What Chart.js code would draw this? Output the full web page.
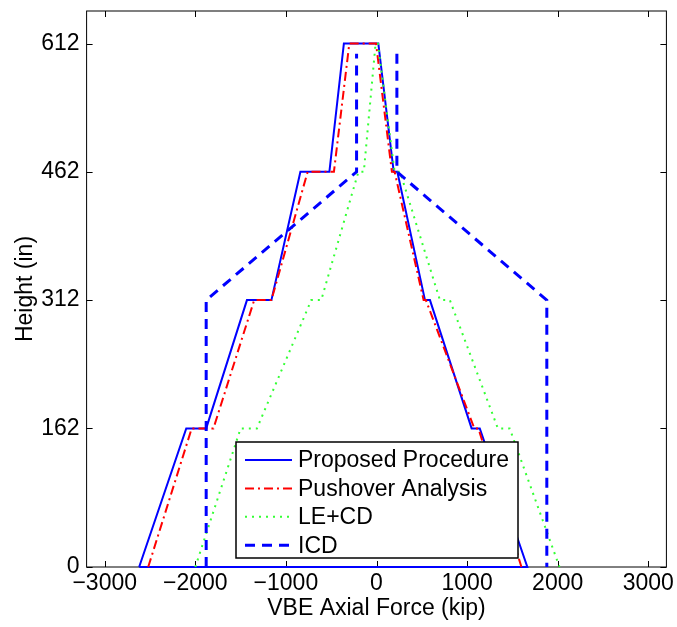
<!DOCTYPE html>
<html>
<head>
<meta charset="utf-8">
<script src="https://cdn.jsdelivr.net/npm/chart.js@4.4.0/dist/chart.umd.min.js"></script>
<style>
  body { margin: 0; background: #fff; }
  #wrap { width: 677px; height: 627px; }
</style>
</head>
<body>
<div id="wrap"><canvas id="vbeChart" width="677" height="627"></canvas></div>
<script>
// tick labels
const forceTicks = [-3000, -2000, -1000, 0, 1000, 2000, 3000];
const heightTicks = [0, 162, 312, 462, 612];

// Proposed Procedure (closed along the base)
const proposedForce = [-2620, -2100, -1880, -1430, -1160, -840, -520, -360, 20, 190, 230, 535, 590, 1050, 1140, 1665, -2620];
const proposedHeight = [0, 162, 162, 312, 312, 462, 462, 612, 612, 462, 462, 312, 312, 162, 162, 0, 0];

// Pushover Analysis
const pushoverForce = [-2520, -2040, -1800, -1350, -1160, -760, -470, -300, -5, 170, 200, 520, 545, 1080, 1125, 1600];
const pushoverHeight = [0, 162, 162, 312, 312, 462, 462, 612, 612, 462, 462, 312, 312, 162, 162, 0];

// LE+CD
const leForce = [-2000, -1500, -1320, -720, -610, -200, -140, -10, 15, 200, 260, 700, 810, 1340, 1470, 2020];
const leHeight = [0, 162, 162, 312, 312, 462, 462, 612, 612, 462, 462, 312, 312, 162, 162, 0];

// ICD (two separate branches, null = gap)
const icdForce = [-1880, -1880, -220, -220, null, 225, 225, 1880, 1880];
const icdHeight = [0, 312, 462, 600, null, 600, 462, 312, 0];

const toPoints = (xs, ys) => xs.map((x, i) => ({ x: x, y: ys[i] }));

const FONT = '"Liberation Sans", Arial, Helvetica, sans-serif';
const FSIZE = 23;

// box + inward ticks like a matlab axes
const boxAxes = {
  id: "boxAxes",
  beforeDatasetsDraw(chart) {
    const { ctx, chartArea: a, scales } = chart;
    ctx.save();
    ctx.strokeStyle = "#000";
    ctx.lineWidth = 1;
    ctx.strokeRect(a.left, a.top, a.right - a.left, a.bottom - a.top);
    const len = 6;
    ctx.beginPath();
    forceTicks.forEach((v) => {
      const px = Math.round(scales.x.getPixelForValue(v)) + 0.5;
      ctx.moveTo(px, a.bottom); ctx.lineTo(px, a.bottom - len);
      ctx.moveTo(px, a.top); ctx.lineTo(px, a.top + len);
    });
    heightTicks.forEach((v) => {
      const py = Math.round(scales.y.getPixelForValue(v)) + 0.5;
      ctx.moveTo(a.left, py); ctx.lineTo(a.left + len, py);
      ctx.moveTo(a.right, py); ctx.lineTo(a.right - len, py);
    });
    ctx.stroke();
    ctx.restore();
  },
};

// legend box inside the axes
const legendBox = {
  id: "legendBox",
  afterDraw(chart) {
    const ctx = chart.ctx;
    const x = 236, y = 442, w = 282, h = 116;
    ctx.save();
    ctx.fillStyle = "#fff";
    ctx.fillRect(x, y, w, h);
    ctx.strokeStyle = "#000";
    ctx.lineWidth = 1.5;
    ctx.strokeRect(x, y, w, h);
    chart.data.datasets.forEach((ds, i) => {
      const ry = y + 18 + i * 28.4;
      ctx.strokeStyle = ds.borderColor;
      ctx.lineWidth = ds.borderWidth;
      ctx.setLineDash(ds.borderDash || []);
      ctx.beginPath();
      ctx.moveTo(x + 9, ry);
      ctx.lineTo(x + 56, ry);
      ctx.stroke();
      ctx.setLineDash([]);
      ctx.fillStyle = "#000";
      ctx.font = FSIZE + "px " + FONT;
      ctx.textBaseline = "middle";
      ctx.fillText(ds.label, x + 62, ry + 1);
    });
    ctx.restore();
  },
};

const ctx = document.getElementById("vbeChart").getContext("2d");
new Chart(ctx, {
  type: "scatter",
  data: {
    datasets: [
      {
        label: "Proposed Procedure",
        data: toPoints(proposedForce, proposedHeight),
        borderColor: "#0000ff",
        borderWidth: 2,
        order: 4,
      },
      {
        label: "Pushover Analysis",
        data: toPoints(pushoverForce, pushoverHeight),
        borderColor: "#ff0000",
        borderWidth: 2,
        borderDash: [9, 4, 2, 4],
        order: 3,
      },
      {
        label: "LE+CD",
        data: toPoints(leForce, leHeight),
        borderColor: "#33ff33",
        borderWidth: 2,
        borderDash: [2, 5],
        order: 2,
      },
      {
        label: "ICD",
        data: toPoints(icdForce, icdHeight),
        borderColor: "#0000ff",
        borderWidth: 3,
        borderDash: [10, 7],
        order: 1,
      },
    ],
  },
  options: {
    responsive: false,
    animation: false,
    devicePixelRatio: 1,
    showLine: true,
    spanGaps: false,
    clip: false,
    elements: {
      point: { radius: 0, hoverRadius: 0 },
      line: { tension: 0, fill: false, borderCapStyle: "butt" },
    },
    layout: { padding: { top: 11, right: 10.6, left: 0, bottom: 0 } },
    plugins: {
      legend: { display: false },
      tooltip: { enabled: false },
    },
    scales: {
      x: {
        type: "linear",
        min: -3200,
        max: 3200,
        afterBuildTicks: (scale) => {
          scale.ticks = forceTicks.map((v) => ({ value: v }));
        },
        afterFit: (scale) => {
          scale.height = 60;
          scale.paddingLeft = 0;
          scale.paddingRight = 0;
        },
        grid: { display: false, drawTicks: false },
        border: { display: false },
        ticks: {
          padding: 3,
          color: "#000",
          font: { family: FONT, size: FSIZE },
          maxRotation: 0,
          callback: (v) => (v < 0 ? "\u2212" + Math.abs(v) : String(v)),
        },
        title: {
          display: true,
          text: "VBE Axial Force (kip)",
          color: "#000",
          font: { family: FONT, size: FSIZE },
          padding: { top: 0, bottom: 5 },
        },
      },
      y: {
        type: "linear",
        min: 0,
        max: 650,
        afterBuildTicks: (scale) => {
          scale.ticks = heightTicks.map((v) => ({ value: v }));
        },
        afterFit: (scale) => {
          scale.width = 86.6;
          scale.paddingTop = 0;
          scale.paddingBottom = 0;
        },
        grid: { display: false, drawTicks: false },
        border: { display: false },
        ticks: {
          padding: 7,
          color: "#000",
          font: { family: FONT, size: FSIZE },
        },
        title: {
          display: true,
          text: "Height (in)",
          color: "#000",
          font: { family: FONT, size: FSIZE },
          padding: { top: 12, bottom: 0 },
        },
      },
    },
  },
  plugins: [boxAxes, legendBox],
});
</script>
</body>
</html>
